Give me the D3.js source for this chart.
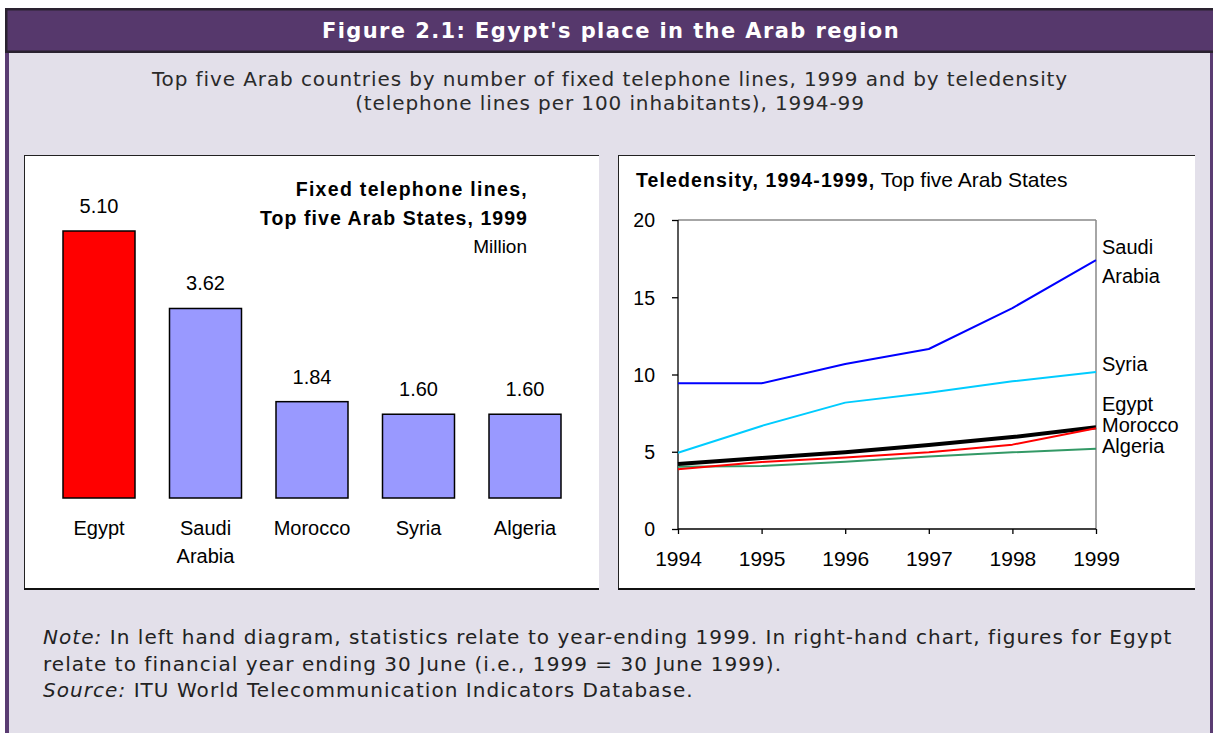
<!DOCTYPE html>
<html><head><meta charset="utf-8">
<script src="https://cdn.jsdelivr.net/npm/d3@7"></script>
<style>body{margin:0;background:#fff}svg{display:block}</style>
</head><body><svg id="c" width="1213" height="733"></svg>
<script>
// ---- data ----
const barCountries = ["Egypt", "Saudi Arabia", "Morocco", "Syria", "Algeria"];
const barValues = [5.10, 3.62, 1.84, 1.60, 1.60];
const barLabels = ["5.10", "3.62", "1.84", "1.60", "1.60"];
const years = [1994, 1995, 1996, 1997, 1998, 1999];
const saudiArabia = [9.43, 9.43, 10.68, 11.65, 14.3, 17.41];
const syria = [4.94, 6.67, 8.18, 8.82, 9.56, 10.16];
const egypt = [4.2, 4.6, 4.96, 5.44, 5.95, 6.58];
const morocco = [3.86, 4.34, 4.62, 4.96, 5.46, 6.52];
const algeria = [4.03, 4.08, 4.36, 4.7, 4.96, 5.2];
const yTicks = [0, 5, 10, 15, 20];
const seriesNames = ["Algeria", "Egypt", "Morocco", "Syria", "Saudi Arabia"];
const seriesValues = [algeria, egypt, morocco, syria, saudiArabia];

// ---- styles ----
const seriesColor = {"Algeria": "#339966", "Egypt": "#000000", "Morocco": "#ff0000", "Syria": "#00ccff", "Saudi Arabia": "#0000ff"};
const seriesWidth = {"Algeria": 2, "Egypt": 4, "Morocco": 2, "Syria": 2, "Saudi Arabia": 2};
const labelNudge = {"Algeria": [4.5], "Egypt": [-16], "Morocco": [4], "Syria": [-1], "Saudi Arabia": [-6, 23]};
const barColor = c => c === "Egypt" ? "#ff0000" : "#9999ff";

const svg = d3.select("#c");
const VFONT = "'DejaVu Sans', Verdana, sans-serif";
const AFONT = "'Liberation Sans', Arial, sans-serif";

// ---- page frame ----
svg.append("rect").attr("x", 5).attr("y", 8).attr("width", 1208).attr("height", 725).attr("fill", "#e3e0ea");
svg.append("rect").attr("x", 5).attr("y", 8).attr("width", 4).attr("height", 725).attr("fill", "#5a3c72");
svg.append("rect").attr("x", 1210).attr("y", 8).attr("width", 4).attr("height", 725).attr("fill", "#5a3c72");
svg.append("rect").attr("x", 6.25).attr("y", 9.25).attr("width", 1212).attr("height", 42.5)
  .attr("fill", "#56386c").attr("stroke", "#2a2230").attr("stroke-width", 2.5);
svg.append("text").attr("x", 611).attr("y", 38).attr("text-anchor", "middle")
  .attr("font-family", VFONT).attr("font-weight", "bold").attr("font-size", 21)
  .attr("letter-spacing", 1.4).attr("fill", "#ffffff")
  .text("Figure 2.1: Egypt's place in the Arab region");

const sub = svg.append("g").attr("font-family", VFONT).attr("font-size", 20).attr("letter-spacing", 0.9)
  .attr("fill", "#2a2a2a").attr("text-anchor", "middle");
sub.append("text").attr("x", 610).attr("y", 86).text("Top five Arab countries by number of fixed telephone lines, 1999 and by teledensity");
sub.append("text").attr("x", 610).attr("y", 110).text("(telephone lines per 100 inhabitants), 1994-99");

// ---- panels ----
function panel(x0, x1, y0, y1) {
  svg.append("rect").attr("x", x0).attr("y", y0).attr("width", x1 - x0).attr("height", y1 - y0).attr("fill", "#ffffff");
  svg.append("line").attr("x1", x0 + 0.5).attr("x2", x0 + 0.5).attr("y1", y0).attr("y2", y1).attr("stroke", "#222").attr("stroke-width", 1);
  svg.append("line").attr("x1", x0).attr("x2", x1).attr("y1", y0 + 0.5).attr("y2", y0 + 0.5).attr("stroke", "#222").attr("stroke-width", 1);
  svg.append("line").attr("x1", x0).attr("x2", x1).attr("y1", y1).attr("y2", y1).attr("stroke", "#111").attr("stroke-width", 2.2);
}
panel(24, 599, 155, 589);
panel(618, 1195, 155, 589);

// ---- left: bar chart ----
const xb = d3.scaleBand().domain(barCountries).range([45.75, 578.25]).paddingInner(0.324).paddingOuter(0.162);
const yb = d3.scaleLinear().domain([0, 5.1]).range([498, 231]);
const bars = svg.append("g");
bars.selectAll("rect").data(barCountries).join("rect")
  .attr("x", d => xb(d)).attr("width", xb.bandwidth())
  .attr("y", (d, i) => yb(barValues[i])).attr("height", (d, i) => yb(0) - yb(barValues[i]))
  .attr("fill", d => barColor(d)).attr("stroke", "#000").attr("stroke-width", 1.5);
bars.selectAll("text.v").data(barCountries).join("text").attr("class", "v")
  .attr("x", d => xb(d) + xb.bandwidth() / 2).attr("y", (d, i) => yb(barValues[i]) - 18)
  .attr("text-anchor", "middle").attr("font-family", AFONT).attr("font-size", 20).attr("fill", "#000")
  .text((d, i) => barLabels[i]);
const cat = bars.selectAll("text.c").data(barCountries).join("text").attr("class", "c")
  .attr("text-anchor", "middle").attr("font-family", AFONT).attr("font-size", 20).attr("fill", "#000");
cat.each(function (d) {
  const words = d.split(" ");
  const t = d3.select(this);
  words.forEach((w, k) => {
    t.append("tspan").attr("x", xb(d) + xb.bandwidth() / 2).attr("y", 535 + k * 28).text(w);
  });
});
const bt = svg.append("g").attr("font-family", AFONT).attr("text-anchor", "end").attr("fill", "#000");
bt.append("text").attr("x", 528).attr("y", 196).attr("font-size", 19.5).attr("font-weight", "bold").attr("letter-spacing", 1.3).text("Fixed telephone lines,");
bt.append("text").attr("x", 528).attr("y", 225).attr("font-size", 19.5).attr("font-weight", "bold").attr("letter-spacing", 1.05).text("Top five Arab States, 1999");
bt.append("text").attr("x", 527).attr("y", 253).attr("font-size", 19).text("Million");

// ---- right: line chart ----
const xl = d3.scalePoint().domain(years).range([678, 1096]);
const yl = d3.scaleLinear().domain([0, 20]).range([529, 220]);
const lc = svg.append("g");
lc.append("line").attr("x1", xl(1994)).attr("x2", xl(1999)).attr("y1", yl(20)).attr("y2", yl(20)).attr("stroke", "#888").attr("stroke-width", 1.5);
lc.append("line").attr("x1", xl(1999)).attr("x2", xl(1999)).attr("y1", yl(20)).attr("y2", yl(0)).attr("stroke", "#888").attr("stroke-width", 1.5);
const yAxis = d3.axisLeft(yl).tickValues(yTicks).tickSize(6).tickPadding(17).tickFormat(d3.format("d"));
const xAxis = d3.axisBottom(xl).tickSize(5).tickPadding(17).tickFormat(d3.format("d"));
const ga = lc.append("g").attr("transform", `translate(${xl(1994)},0)`).call(yAxis);
const gx = lc.append("g").attr("transform", `translate(0,${yl(0)})`).call(xAxis);
[ga, gx].forEach(g => {
  g.select(".domain").attr("stroke", "#000").attr("stroke-width", 1.3);
  g.selectAll(".tick line").attr("stroke", "#000").attr("stroke-width", 1.3);
  g.selectAll(".tick text").attr("font-family", AFONT).attr("fill", "#000");
});
ga.select(".domain").attr("d", `M0,${yl(20)}V${yl(0)}`);
gx.select(".domain").attr("d", `M${xl(1994)},0H${xl(1999)}`);
ga.selectAll(".tick text").attr("font-size", 19.5).attr("dy", "0.35em");
gx.selectAll(".tick text").attr("font-size", 21).attr("dy", "0.71em");

const line = d3.line().x((d, i) => xl(years[i])).y(d => yl(d));
lc.selectAll("path.s").data(seriesNames).join("path").attr("class", "s")
  .attr("d", (d, i) => line(seriesValues[i])).attr("fill", "none")
  .attr("stroke", d => seriesColor[d]).attr("stroke-width", d => seriesWidth[d])
  .attr("stroke-linejoin", "round");
seriesNames.forEach((name, i) => {
  const v = seriesValues[i][seriesValues[i].length - 1];
  const words = name.split(" ");
  words.forEach((w, k) => {
    lc.append("text").attr("x", xl(1999) + 6).attr("y", yl(v) + labelNudge[name][k])
      .attr("font-family", AFONT).attr("font-size", 20).attr("fill", "#000").text(w);
  });
});
const tt = lc.append("text").attr("x", 636).attr("y", 187).attr("font-family", AFONT).attr("fill", "#000");
tt.append("tspan").attr("font-weight", "bold").attr("font-size", 19.5).attr("letter-spacing", 1.1).text("Teledensity, 1994-1999,");
tt.append("tspan").attr("font-size", 21).text(" Top five Arab States");

// ---- notes ----
const nt = svg.append("g").attr("font-family", VFONT).attr("font-size", 20).attr("letter-spacing", 1.05).attr("fill", "#222");
const n1 = nt.append("text").attr("x", 43).attr("y", 644);
n1.append("tspan").attr("font-style", "italic").text("Note:");
n1.append("tspan").text(" In left hand diagram, statistics relate to year-ending 1999. In right-hand chart, figures for Egypt");
nt.append("text").attr("x", 43).attr("y", 671).text("relate to financial year ending 30 June (i.e., 1999 = 30 June 1999).");
const n3 = nt.append("text").attr("x", 43).attr("y", 697);
n3.append("tspan").attr("font-style", "italic").text("Source:");
n3.append("tspan").text(" ITU World Telecommunication Indicators Database.");
</script></body></html>
